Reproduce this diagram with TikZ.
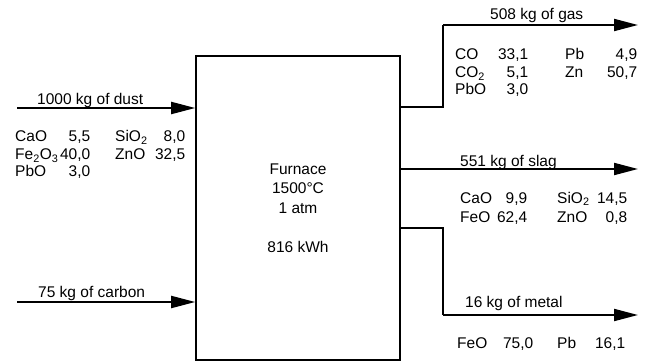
\documentclass[tikz,border=0pt]{standalone}
\usepackage{fontspec}
\setmainfont{Liberation Sans}
\usepackage{array}
\usetikzlibrary{arrows.meta}
\newcolumntype{L}[1]{p{#1}}
\newcolumntype{R}[1]{>{\raggedleft\arraybackslash}p{#1}}

\begin{document}
\begin{tikzpicture}[x=1pt, y=-1pt,
    flow/.style={line width=2pt, -{Triangle[length=24pt, width=12pt]}},
    pipe/.style={line width=2pt},
    lbl/.style={anchor=base west, inner sep=0pt, font=\fontsize{15.5}{17}\selectfont},
    tbl/.style={anchor=base west, inner sep=0pt, font=\fontsize{15.5}{17.5}\selectfont}]
\useasboundingbox (0,0) rectangle (646,361);

% Furnace
\node[draw, line width=1.6pt, minimum width=204pt, minimum height=304pt, inner sep=0pt,
      align=center, font=\fontsize{15.5}{19.5}\selectfont] (furnace) at (298,208)
  {Furnace\\1500°C\\1 atm\\[19.5pt]816 kWh};

% Inputs
\coordinate (dustin) at (17,108);
\coordinate (carbonin) at (17,302);
\draw[flow] (dustin) -- (furnace.west |- dustin);
\draw[flow] (carbonin) -- (furnace.west |- carbonin);
\node[lbl] (dustlbl) at (37,105) {1000 kg of dust};
\node[lbl] (carbonlbl) at (38,297) {75 kg of carbon};

\node[tbl] (dusttab) at (15,142) {\begin{tabular}[t]{@{}L{35pt}@{}R{40pt}@{\hspace{25pt}}L{35pt}@{}R{35pt}@{}}
  CaO & 5,5 & SiO\textsubscript{2} & 8,0\\
  Fe\textsubscript{2}O\textsubscript{3} & 40,0 & ZnO & 32,5\\
  PbO & 3,0 & &
\end{tabular}};

% Gas
\coordinate (gasa) at (furnace.east |- 0,107);
\coordinate (gasb) at (443,107);
\coordinate (gasc) at (443,25);
\coordinate (gasout) at (638,25);
\draw[pipe] (gasa) -- (gasb) -- (gasc);
\draw[flow] (gasc) -- (gasout);
\node[lbl] (gaslbl) at (490,20) {508 kg of gas};
\node[tbl] (gastab) at (455,60) {\begin{tabular}[t]{@{}L{35pt}@{}R{38pt}@{\hspace{37pt}}L{35pt}@{}R{37pt}@{}}
  CO & 33,1 & Pb & 4,9\\
  CO\textsubscript{2} & 5,1 & Zn & 50,7\\
  PbO & 3,0 & &
\end{tabular}};

% Slag
\coordinate (slagin) at (furnace.east |- 0,169);
\coordinate (slagout) at (638,169);
\draw[flow] (slagin) -- (slagout);
\node[lbl] (slaglbl) at (460,166) {551 kg of slag};
\node[tbl, font=\fontsize{15.5}{19}\selectfont] (slagtab) at (460,203) {\begin{tabular}[t]{@{}L{35pt}@{}R{32pt}@{\hspace{30pt}}L{35pt}@{}R{35pt}@{}}
  CaO & 9,9 & SiO\textsubscript{2} & 14,5\\
  FeO & 62,4 & ZnO & 0,8
\end{tabular}};

% Metal
\coordinate (metala) at (furnace.east |- 0,228);
\coordinate (metalb) at (443,228);
\coordinate (metalc) at (443,315);
\coordinate (metalout) at (638,315);
\draw[pipe] (metala) -- (metalb) -- (metalc);
\draw[flow] (metalc) -- (metalout);
\node[lbl] (metallbl) at (465,307) {16 kg of metal};
\node[tbl] (metaltab) at (457,348) {\begin{tabular}[t]{@{}L{35pt}@{}R{41pt}@{\hspace{24pt}}L{35pt}@{}R{33pt}@{}}
  FeO & 75,0 & Pb & 16,1
\end{tabular}};

\end{tikzpicture}
\end{document}
